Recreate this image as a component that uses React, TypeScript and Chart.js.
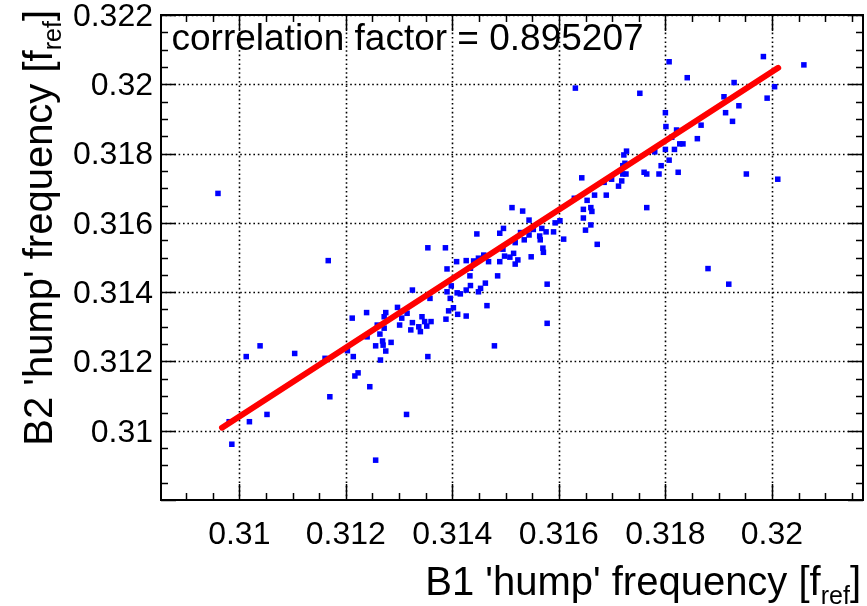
import React, { useEffect, useRef } from 'react';
import { Chart, registerables } from 'chart.js';

Chart.register(...registerables);

// B1 'hump' frequency (x) and B2 'hump' frequency (y), one entry per measurement
const b1Freq = [
  0.31807, 0.31841, 0.31631, 0.31752, 0.31984, 0.32060, 0.32005, 0.31991, 0.31929, 0.31910,
  0.31938, 0.31913, 0.31926, 0.31867, 0.31860, 0.31800, 0.31801, 0.31821, 0.31800, 0.31817,
  0.31827, 0.31833, 0.31780, 0.31807, 0.31792, 0.31788, 0.31824, 0.31760, 0.31765, 0.31765,
  0.31952, 0.32011, 0.31727, 0.31722, 0.31724, 0.31720, 0.31720, 0.31726, 0.31718, 0.31712,
  0.31699, 0.31685, 0.31689, 0.31667, 0.31653, 0.31643, 0.31629, 0.31646, 0.31662, 0.31660,
  0.31646, 0.31660, 0.31650, 0.31672, 0.31880, 0.31919, 0.31578, 0.31578, 0.31812,
  0.31512, 0.31532, 0.31544, 0.31593, 0.31602, 0.31590, 0.31609, 0.31568, 0.31576, 0.31552,
  0.31544, 0.31564, 0.31565, 0.31535, 0.31528, 0.31518, 0.31496, 0.31489, 0.31446, 0.31354,
  0.31387, 0.31570, 0.31571, 0.31548, 0.31495, 0.31498, 0.31508, 0.31515, 0.31523, 0.31518,
  0.31489, 0.31468, 0.31459, 0.31449, 0.31434, 0.31426, 0.31408, 0.31390, 0.31485, 0.31433,
  0.31398, 0.31434, 0.31453, 0.31449, 0.31462, 0.31426, 0.31415, 0.31409, 0.31390, 0.31396,
  0.31325, 0.31358, 0.31465, 0.31402, 0.31393, 0.31410, 0.31426, 0.31388, 0.31440,
  0.31167, 0.31297, 0.31303, 0.31315, 0.31305, 0.31301, 0.31275, 0.31272, 0.31239, 0.31212,
  0.31325, 0.31322, 0.31343, 0.31348, 0.31337, 0.31340, 0.31352, 0.31360, 0.31259, 0.31272,
  0.31264, 0.31240, 0.31256, 0.31269, 0.31270, 0.31285, 0.31275, 0.31203, 0.31214, 0.31161,
  0.31265, 0.31354, 0.31479, 0.31223, 0.31217, 0.31245, 0.31170, 0.31013, 0.31039, 0.31104,
  0.31052, 0.31019, 0.30981, 0.30986, 0.31256, 0.31314, 0.30960,
];
const b2Freq = [
  0.32065, 0.32019, 0.31989, 0.31974, 0.32080, 0.32056, 0.31993, 0.31960, 0.32005, 0.31964,
  0.31938, 0.31918, 0.31893, 0.31882, 0.31843, 0.31918, 0.31878, 0.31868, 0.31812, 0.31812,
  0.31828, 0.31828, 0.31805, 0.31781, 0.31765, 0.31741, 0.31746, 0.31746, 0.31741, 0.31644,
  0.31741, 0.31726, 0.31807, 0.31796, 0.31772, 0.31765, 0.31741, 0.31741, 0.31721, 0.31706,
  0.31726, 0.31717, 0.31680, 0.31680, 0.31665, 0.31730, 0.31671, 0.31639, 0.31633, 0.31644,
  0.31614, 0.31594, 0.31579, 0.31538, 0.31468, 0.31423, 0.31423, 0.31310, 0.31847,
  0.31644, 0.31634, 0.31608, 0.31600, 0.31606, 0.31574, 0.31553, 0.31584, 0.31574, 0.31581,
  0.31565, 0.31562, 0.31551, 0.31551, 0.31572, 0.31543, 0.31584, 0.31570, 0.31568, 0.31528,
  0.31528, 0.31527, 0.31515, 0.31502, 0.31524, 0.31504, 0.31501, 0.31512, 0.31493, 0.31481,
  0.31488, 0.31488, 0.31507, 0.31498, 0.31469, 0.31491, 0.31488, 0.31467, 0.31447, 0.31447,
  0.31418, 0.31419, 0.31411, 0.31401, 0.31426, 0.31406, 0.31395, 0.31398, 0.31401, 0.31382,
  0.31406, 0.31382, 0.31361, 0.31355, 0.31346, 0.31336, 0.31331, 0.31322, 0.31490,
  0.31491, 0.31356, 0.31344, 0.31339, 0.31325, 0.31305, 0.31341, 0.31329, 0.31341, 0.31325,
  0.31312, 0.31291, 0.31329, 0.31315, 0.31300, 0.31286, 0.31302, 0.31315, 0.31305, 0.31296,
  0.31279, 0.31271, 0.31245, 0.31259, 0.31247, 0.31255, 0.31230, 0.31231, 0.31214, 0.31209,
  0.31204, 0.31214, 0.31245, 0.31167, 0.31158, 0.31127, 0.31098, 0.31214, 0.31245, 0.31223,
  0.31047, 0.31026, 0.31026, 0.30961, 0.30915, 0.31047, 0.31685,
];

// Linear fit line end points
const fitX = [0.309676, 0.320118];
const fitY = [0.310087, 0.320475];

// Axis ranges and tick labels
const xRange = [0.30853, 0.32171];
const yRange = [0.308, 0.322];
const xTicks = [0.31, 0.312, 0.314, 0.316, 0.318, 0.32];
const xTickLabels = ['0.31', '0.312', '0.314', '0.316', '0.318', '0.32'];
const yTicks = [0.31, 0.312, 0.314, 0.316, 0.318, 0.32, 0.322];
const yTickLabels = ['0.31', '0.312', '0.314', '0.316', '0.318', '0.32', '0.322'];
const minorStep = 0.0005;

const xTitleMain = "B1 'hump' frequency [f";
const yTitleMain = "B2 'hump' frequency [f";
const titleSub = 'ref';
const titleEnd = ']';
const correlationText = 'correlation factor = 0.895207';

const FONT = '"Liberation Sans", Arial, Helvetica, sans-serif';

const rootPlugin = {
  id: 'rootStyle',
  beforeDatasetsDraw(chart: any) {
    const { ctx, chartArea: a, scales } = chart;
    const x = scales.x;
    const y = scales.y;
    ctx.save();
    ctx.strokeStyle = '#000';
    ctx.lineWidth = 1.6;
    ctx.setLineDash([1.6, 2.8]);
    xTicks.forEach((v) => {
      const px = Math.round(x.getPixelForValue(v)) + 0.5;
      ctx.beginPath();
      ctx.moveTo(px, a.top);
      ctx.lineTo(px, a.bottom);
      ctx.stroke();
    });
    yTicks.forEach((v) => {
      const py = Math.round(y.getPixelForValue(v)) + 0.5;
      ctx.beginPath();
      ctx.moveTo(a.left, py);
      ctx.lineTo(a.right, py);
      ctx.stroke();
    });
    ctx.restore();
  },
  afterDraw(chart: any) {
    const { ctx, chartArea: a, scales } = chart;
    const x = scales.x;
    const y = scales.y;
    ctx.save();
    ctx.setLineDash([]);
    ctx.strokeStyle = '#000';
    const line = (x1: number, y1: number, x2: number, y2: number) => {
      ctx.beginPath();
      ctx.moveTo(x1, y1);
      ctx.lineTo(x2, y2);
      ctx.stroke();
    };
    // ticks
    ctx.lineWidth = 1.5;
    for (let k = Math.ceil(x.min / minorStep); k * minorStep <= x.max + 1e-12; k++) {
      const v = k * minorStep;
      const px = Math.round(x.getPixelForValue(v)) + 0.5;
      const major = k % 4 === 0;
      const len = major ? 16 : 7;
      line(px, a.bottom, px, a.bottom - len);
      line(px, a.top, px, a.top + len);
    }
    for (let k = Math.ceil(y.min / minorStep - 1e-9); k * minorStep <= y.max + 1e-12; k++) {
      const v = k * minorStep;
      const py = Math.round(y.getPixelForValue(v)) + 0.5;
      const major = k % 4 === 0;
      const len = major ? 15 : 7;
      line(a.left, py, a.left + len, py);
      line(a.right, py, a.right - len, py);
    }
    // frame
    ctx.lineWidth = 2;
    ctx.strokeRect(a.left, a.top, a.right - a.left, a.bottom - a.top);

    // tick labels
    ctx.fillStyle = '#000';
    ctx.font = `32px ${FONT}`;
    ctx.textAlign = 'center';
    ctx.textBaseline = 'alphabetic';
    xTicks.forEach((v, i) => {
      ctx.fillText(xTickLabels[i], x.getPixelForValue(v), 544);
    });
    ctx.textAlign = 'right';
    ctx.textBaseline = 'middle';
    yTicks.forEach((v, i) => {
      ctx.fillText(yTickLabels[i], 153, y.getPixelForValue(v) + 2);
    });

    // axis titles
    const mainFont = `40px ${FONT}`;
    const subFont = `25px ${FONT}`;
    ctx.textAlign = 'left';
    ctx.textBaseline = 'alphabetic';
    ctx.font = mainFont;
    const wMainX = ctx.measureText(xTitleMain).width;
    const wEnd = ctx.measureText(titleEnd).width;
    const wMainY = ctx.measureText(yTitleMain).width;
    ctx.font = subFont;
    const wSub = ctx.measureText(titleSub).width;

    // x title, right aligned
    const xEnd = 861;
    const sx = xEnd - (wMainX + wSub + wEnd);
    ctx.font = mainFont;
    ctx.fillText(xTitleMain, sx, 595);
    ctx.font = subFont;
    ctx.fillText(titleSub, sx + wMainX, 604);
    ctx.font = mainFont;
    ctx.fillText(titleEnd, sx + wMainX + wSub, 595);

    // y title, rotated, right aligned at top
    ctx.save();
    ctx.translate(52, 10);
    ctx.rotate(-Math.PI / 2);
    const total = wMainY + wSub + wEnd;
    const s0 = -total;
    ctx.font = mainFont;
    ctx.fillText(yTitleMain, s0, 0);
    ctx.font = subFont;
    ctx.fillText(titleSub, s0 + wMainY, 9);
    ctx.font = mainFont;
    ctx.fillText(titleEnd, s0 + wMainY + wSub, 0);
    ctx.restore();

    // correlation text
    ctx.font = `37px ${FONT}`;
    ctx.textAlign = 'left';
    ctx.fillText(correlationText, 171.5, 50);
    ctx.restore();
  },
};

export default function App() {
  const canvasRef = useRef<HTMLCanvasElement | null>(null);

  useEffect(() => {
    const canvas = canvasRef.current;
    if (!canvas) return;
    const points = b1Freq.map((v, i) => ({ x: v, y: b2Freq[i] }));
    const fit = fitX.map((v, i) => ({ x: v, y: fitY[i] }));
    const chart = new Chart(canvas, {
      type: 'scatter',
      data: {
        datasets: [
          {
            type: 'line',
            data: fit,
            borderColor: '#ff0000',
            borderWidth: 6,
            borderCapStyle: 'round',
            pointRadius: 0,
            fill: false,
            order: 0,
          } as any,
          {
            type: 'scatter',
            data: points,
            backgroundColor: '#0000ff',
            borderWidth: 0,
            pointStyle: 'rect',
            pointRadius: 3.9,
            order: 1,
          } as any,
        ],
      },
      options: {
        animation: false,
        responsive: false,
        devicePixelRatio: 1,
        events: [],
        layout: { padding: { left: 0, top: 15, right: 4, bottom: 0 } },
        plugins: { legend: { display: false }, tooltip: { enabled: false } },
        scales: {
          x: {
            type: 'linear',
            min: xRange[0],
            max: xRange[1],
            ticks: { display: false },
            grid: { display: false },
            border: { display: false },
            afterFit: (s: any) => {
              s.height = 106;
            },
          },
          y: {
            type: 'linear',
            min: yRange[0],
            max: yRange[1],
            ticks: { display: false },
            grid: { display: false },
            border: { display: false },
            afterFit: (s: any) => {
              s.width = 161;
            },
          },
        },
      } as any,
      plugins: [rootPlugin],
    });
    return () => chart.destroy();
  }, []);

  return (
    <div style={{ position: 'fixed', left: 0, top: 0, width: 867, height: 606, background: '#fff' }}>
      <canvas ref={canvasRef} width={867} height={606} style={{ display: 'block' }} />
    </div>
  );
}
